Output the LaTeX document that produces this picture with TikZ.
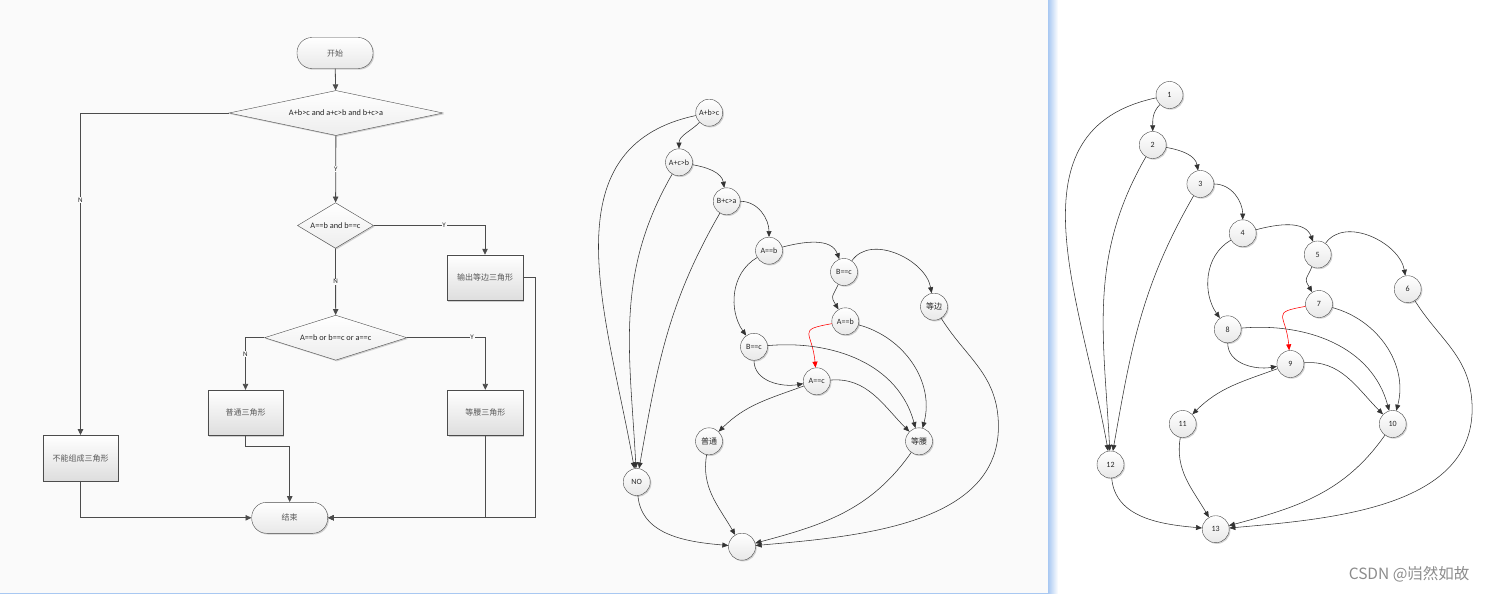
\documentclass[tikz,border=0pt]{standalone}
\usepackage{fontspec}
\setmainfont{Carlito}
\newfontfamily\cjk{Noto Sans CJK SC}
\usetikzlibrary{
  arrows.meta,
  shapes.geometric,
  shadows,
  calc
}
\definecolor{sepblue}{RGB}{168,200,242}
\definecolor{panelgray}{RGB}{250,250,250}

% edges of a path graph, #1 = prefix of the node names
\newcommand{\gedges}[1]{%
  \draw[garr] (#1-1) to[out=225,in=90] (#1-2);
  \draw[garr] (#1-1) to[out=192,in=100,looseness=1.1] (#1-12);
  \draw[garr] (#1-2) to[out=-10,in=100] (#1-3);
  \draw[garr] (#1-2) to[out=240,in=93] (#1-12);
  \draw[garr] (#1-3) to[out=0,in=90] (#1-4);
  \draw[garr] (#1-3) to[out=240,in=80] (#1-12);
  \draw[garr] (#1-4) to[out=15,in=110] (#1-5);
  \draw[garr] (#1-4) to[out=210,in=125] (#1-8);
  \draw[garr] (#1-5) to[out=55,in=100] (#1-6);
  \draw[garr] (#1-5) to[out=245,in=120,looseness=1.6] (#1-7);
  \draw[hot]  (#1-7) to[out=190,in=95,looseness=2] (#1-9);
  \draw[garr] (#1-7) to[out=-15,in=75] (#1-10);
  \draw[garr] (#1-8) to[out=5,in=105] (#1-10);
  \draw[garr] (#1-8) to[out=-90,in=190] (#1-9);
  \draw[garr] (#1-9) to[out=200,in=45] (#1-11);
  \draw[garr] (#1-9) to[out=5,in=135] (#1-10);
  \draw[garr] (#1-11) to[out=260,in=120] (#1-13);
  \draw[garr] (#1-12) to[out=-85,in=175] (#1-13);
  \draw[garr] (#1-10) to[out=235,in=15] (#1-13);
  \draw[garr] (#1-6) to[out=-58,in=95] ($(#1-6)+(64,-110)$) to[out=-85,in=5] (#1-13);
}

\begin{document}
\begin{tikzpicture}[
    x=1pt, y=1pt,
    box/.style={
      draw=black!70, top color=white, bottom color=black!13,
      drop shadow={shadow xshift=1.2pt, shadow yshift=-1.2pt, opacity=0.35},
      font=\fontsize{8}{9}\selectfont\cjk, text=black!65, inner sep=1pt
    },
    term/.style={box, rectangle, rounded corners=15pt,
      minimum width=76pt, minimum height=31pt, bottom color=black!9},
    proc/.style={box, rectangle, minimum width=75.5pt, minimum height=45.5pt},
    dec/.style={box, diamond, inner sep=0pt, bottom color=black!7,
      font=\fontsize{8.3}{9}\selectfont, text=black!85},
    gnode/.style={box, circle, minimum size=27pt, inner sep=0pt, bottom color=black!9,
      font=\fontsize{8}{9}\selectfont, text=black!85},
    flow/.style={-{Triangle[length=6pt,width=5.5pt]}, draw=black!70, line width=0.8pt},
    garr/.style={-{Triangle[length=6pt,width=5pt]}, draw=black!80, line width=0.55pt},
    hot/.style={garr, draw=red},
    lbl/.style={fill=panelgray, inner sep=0.8pt, font=\fontsize{7}{8}\selectfont, text=black!85},
  ]
  \useasboundingbox (0,0) rectangle (1489,-594);

  %% --- panels ---
  \fill[panelgray] (0,0) rectangle (1048,-594);
  \shade[left color=sepblue, right color=white] (1048,0) rectangle (1058,-594);
  \draw[sepblue, line width=1.4pt] (1048.5,0) -- (1048.5,-594);
  \draw[sepblue, line width=1pt] (0,-593.5) -- (1048,-593.5);

  %% --- flowchart ---
  \node[term] (start) at (335,-53) {开始};
  \node[dec, aspect=4.75, minimum width=214pt, minimum height=45pt] (d1) at (336,-113)
    {A+b>c and a+c>b and b+c>a};
  \node[dec, aspect=1.67, minimum width=76pt, minimum height=45.6pt] (d2) at (335.5,-225.5)
    {A==b and b==c};
  \node[dec, aspect=3.16, minimum width=142.4pt, minimum height=45pt] (d3) at (335.7,-337.7)
    {A==b or b==c or a==c};
  \node[proc] (eqt) at (485,-277.7) {输出等边三角形};
  \node[proc] (iso) at (485.3,-412.8) {等腰三角形};
  \node[proc] (gen) at (245.5,-412.8) {普通三角形};
  \node[proc] (nc)  at (80.5,-458) {不能组成三角形};
  \node[term] (end) at (289.7,-517.8) {结束};

  \draw[flow] (start) -- (d1);
  \draw[flow] (d1) -- node[lbl]{Y} (d2);
  \draw[flow] (d1.west) -| node[lbl, pos=0.635]{N} (nc.north);
  \draw[flow] (d2.east) -| node[lbl, pos=0.316]{Y} (eqt.north);
  \draw[flow] (d2) -- node[lbl]{N} (d3);
  \draw[flow] (d3.east) -| node[lbl, pos=0.415]{Y} (iso.north);
  \draw[flow] (d3.west) -| node[lbl, pos=0.656]{N} (gen.north);
  \draw[flow] (gen.south) -- ++(0,-11) -| (end.north);
  \draw[flow] (nc.south) |- (end.west);
  \draw[flow] (iso.south) |- (end.east);
  \draw[flow] (eqt.east) -- ++(12.5,0) |- (end.east);

  %% --- condition graph ---
  \node[gnode] (m-1)  at (709.2,-112.7) {A+b>c};
  \node[gnode] (m-2)  at (679,-162.3)   {A+c>b};
  \node[gnode] (m-3)  at (726.7,-201.3) {B+c>a};
  \node[gnode] (m-4)  at (769,-250.7)   {A==b};
  \node[gnode] (m-5)  at (844,-272)     {B==c};
  \node[gnode] (m-6)  at (934,-306.7)   {\cjk 等边};
  \node[gnode] (m-7)  at (845.3,-321.3) {A==b};
  \node[gnode] (m-8)  at (754,-346.8)   {B==c};
  \node[gnode] (m-9)  at (816.7,-381.3) {A==c};
  \node[gnode] (m-10) at (919,-441.3)   {\cjk 等腰};
  \node[gnode] (m-11) at (709,-441.3)   {\cjk 普通};
  \node[gnode] (m-12) at (636.7,-482)   {NO};
  \node[gnode] (m-13) at (742,-546.7)   {};
  \gedges{m}

  %% --- numbered graph ---
  \node[gnode] (r-1)  at (1169.5,-95)    {1};
  \node[gnode] (r-2)  at (1152.7,-145)   {2};
  \node[gnode] (r-3)  at (1200.4,-184)   {3};
  \node[gnode] (r-4)  at (1242.7,-233.3) {4};
  \node[gnode] (r-5)  at (1317.7,-254.5) {5};
  \node[gnode] (r-6)  at (1407.7,-289.2) {6};
  \node[gnode] (r-7)  at (1319,-304)     {7};
  \node[gnode] (r-8)  at (1227.7,-329.3) {8};
  \node[gnode] (r-9)  at (1290.4,-364)   {9};
  \node[gnode] (r-10) at (1392.7,-424)   {10};
  \node[gnode] (r-11) at (1182.7,-424)   {11};
  \node[gnode] (r-12) at (1110.5,-464.5) {12};
  \node[gnode] (r-13) at (1215.7,-529.2) {13};
  \gedges{r}

  \node[anchor=east, font=\fontsize{15.5}{16}\selectfont\cjk, text=black!45] (mark)
    at (1473,-574) {CSDN @岿然如故};
\end{tikzpicture}
\end{document}
